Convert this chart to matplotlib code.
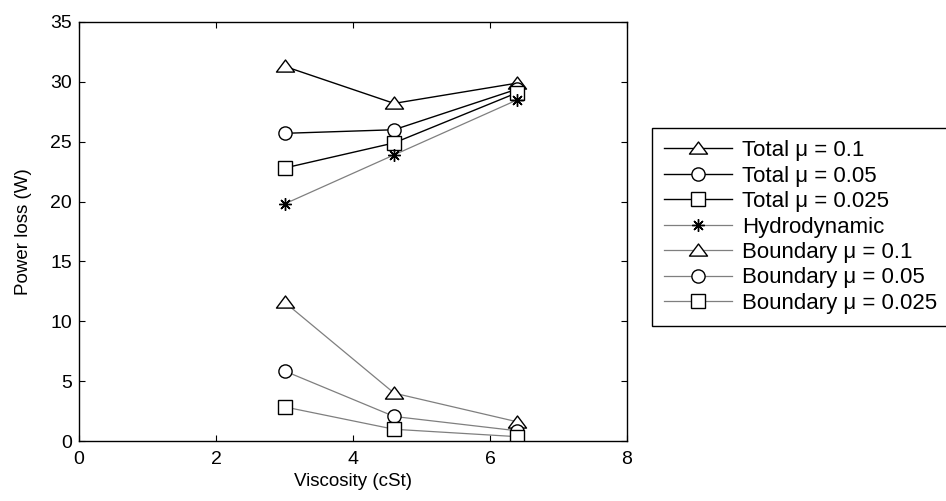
import numpy as np
import matplotlib
matplotlib.use("Agg")
import matplotlib.pyplot as plt
from matplotlib.path import Path

plt.rcParams['font.family'] = ['Liberation Sans', 'DejaVu Sans']
plt.rcParams['font.size'] = 14

viscosity = [3.0, 4.6, 6.4]
total_01 = [31.3, 28.2, 29.9]
total_005 = [25.7, 26.0, 29.4]
total_0025 = [22.8, 24.9, 29.1]
hydro = [19.8, 23.9, 28.5]
bound_01 = [11.6, 4.0, 1.6]
bound_005 = [5.85, 2.05, 0.85]
bound_0025 = [2.85, 0.98, 0.36]
labels = ['Total \u03bc = 0.1', 'Total \u03bc = 0.05', 'Total \u03bc = 0.025',
          'Hydrodynamic', 'Boundary \u03bc = 0.1', 'Boundary \u03bc = 0.05',
          'Boundary \u03bc = 0.025']

# wide flat triangle like the matlab one
tri = Path([(0, 0.72), (-1, -0.62), (1, -0.62), (0, 0.72)],
           [Path.MOVETO, Path.LINETO, Path.LINETO, Path.CLOSEPOLY])

fig = plt.figure(figsize=(9.46, 5.01), dpi=100)
ax = fig.add_axes([79/946, 60/501, 548/946, 419/501])

blk = dict(color='black', lw=1.0, mfc='white', mec='black', mew=1.0)
gry = dict(color='#7f7f7f', lw=0.9, mfc='white', mec='black', mew=1.0)

ax.plot(viscosity, total_01, marker=tri, ms=13, label=labels[0], **blk)
ax.plot(viscosity, total_005, marker='o', ms=9.5, label=labels[1], **blk)
ax.plot(viscosity, total_0025, marker='s', ms=10, label=labels[2], **blk)
ax.plot(viscosity, hydro, marker=(8, 2, 0), ms=9, label=labels[3], **gry)
ax.plot(viscosity, bound_01, marker=tri, ms=13, label=labels[4], **gry)
ax.plot(viscosity, bound_005, marker='o', ms=9.5, label=labels[5], **gry)
ax.plot(viscosity, bound_0025, marker='s', ms=10, label=labels[6], **gry)

ax.set_xlim(0, 8)
ax.set_ylim(0, 35)
ax.set_xticks([0, 2, 4, 6, 8])
ax.set_yticks(np.arange(0, 36, 5))
ax.tick_params(direction='in', length=4, width=0.8, top=True, right=True)
ax.tick_params(axis='x', pad=7)
ax.tick_params(axis='y', pad=5)
for s in ax.spines.values():
    s.set_linewidth(1.0)
ax.set_xlabel('Viscosity (cSt)', fontsize=13.5, labelpad=4)
ax.set_ylabel('Power loss (W)', fontsize=13.5, labelpad=13)

leg = ax.legend(loc='upper left', bbox_to_anchor=(652/946, 1 - 128/501),
                bbox_transform=fig.transFigure, fancybox=False, frameon=True,
                edgecolor='black', framealpha=1, fontsize=16,
                handlelength=3.05, handletextpad=0.45, labelspacing=0.2,
                borderpad=0.55, borderaxespad=0)
leg.get_frame().set_linewidth(1.0)

fig.savefig('out.png', dpi=100)
